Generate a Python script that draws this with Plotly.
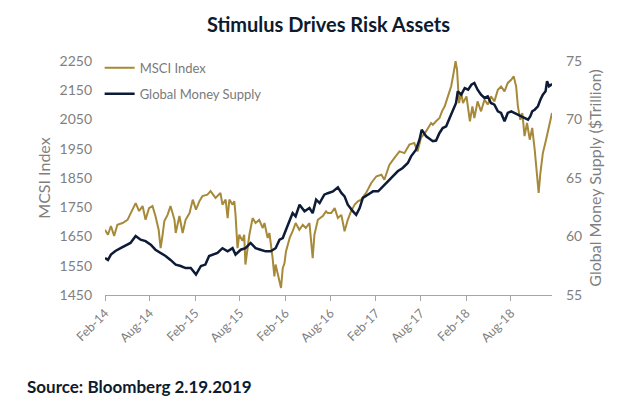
import plotly.graph_objects as go

# MSCI index (gold)
msci_dates = [
    "2014-02-01", "2014-02-13", "2014-02-25", "2014-03-10", "2014-03-23", "2014-04-13",
    "2014-05-03", "2014-05-23", "2014-06-05", "2014-06-19", "2014-07-03", "2014-07-15",
    "2014-07-29", "2014-08-12", "2014-08-24", "2014-09-06", "2014-09-14", "2014-09-22",
    "2014-09-29", "2014-10-12", "2014-10-24", "2014-11-09", "2014-11-14", "2014-11-29",
    "2014-12-12", "2014-12-24", "2015-01-09", "2015-01-22", "2015-02-04", "2015-02-18",
    "2015-03-02", "2015-03-22", "2015-04-04", "2015-04-24", "2015-05-14", "2015-05-22",
    "2015-06-04", "2015-06-12", "2015-06-19", "2015-07-02", "2015-07-09", "2015-07-14",
    "2015-07-22", "2015-07-29", "2015-08-11", "2015-08-18", "2015-08-23", "2015-09-08",
    "2015-09-21", "2015-10-03", "2015-10-18", "2015-11-01", "2015-11-08", "2015-11-21",
    "2015-11-28", "2015-12-11", "2015-12-18", "2015-12-23", "2016-01-04", "2016-01-14",
    "2016-01-21", "2016-01-28", "2016-02-03", "2016-02-18", "2016-03-01", "2016-03-13",
    "2016-03-28", "2016-04-11", "2016-04-23", "2016-05-08", "2016-05-21", "2016-05-28",
    "2016-06-11", "2016-07-01", "2016-07-14", "2016-07-21", "2016-08-04", "2016-08-18",
    "2016-08-31", "2016-09-14", "2016-09-27", "2016-10-10", "2016-10-23", "2016-11-07",
    "2016-11-20", "2016-12-03", "2016-12-23", "2017-01-13", "2017-02-03", "2017-02-23",
    "2017-03-07", "2017-03-27", "2017-04-16", "2017-05-07", "2017-05-27", "2017-06-16",
    "2017-07-06", "2017-07-19", "2017-08-02", "2017-08-23", "2017-09-12", "2017-09-19",
    "2017-10-02", "2017-10-16", "2017-10-26", "2017-11-06", "2017-11-19", "2017-12-02",
    "2017-12-12", "2017-12-20", "2017-12-26", "2018-01-03", "2018-01-12", "2018-01-19",
    "2018-02-02", "2018-02-16", "2018-02-26", "2018-03-06", "2018-03-19", "2018-04-02",
    "2018-04-16", "2018-04-29", "2018-05-12", "2018-05-26", "2018-06-09", "2018-06-22",
    "2018-07-06", "2018-07-19", "2018-08-02", "2018-08-12", "2018-08-22", "2018-08-29",
    "2018-09-08", "2018-09-16", "2018-09-25", "2018-10-05", "2018-10-16", "2018-10-26",
    "2018-11-05", "2018-11-14", "2018-11-21", "2018-11-28", "2018-12-08", "2018-12-21",
    "2019-01-05", "2019-01-14",
]
msci_values = [
    1673, 1656, 1686, 1652, 1690, 1696,
    1707, 1742, 1764, 1737, 1754, 1707,
    1747, 1754, 1720, 1673, 1610, 1656,
    1703, 1724, 1754, 1707, 1662, 1720,
    1662, 1707, 1730, 1776, 1742, 1771,
    1788, 1793, 1805, 1782, 1799, 1759,
    1776, 1713, 1776, 1759, 1771, 1724,
    1610, 1656, 1635, 1656, 1554, 1656,
    1713, 1696, 1707, 1679, 1696, 1645,
    1662, 1576, 1514, 1554, 1508, 1474,
    1542, 1559, 1599, 1645, 1668, 1696,
    1673, 1690, 1679, 1696, 1576, 1656,
    1707, 1720, 1736, 1730, 1730, 1747,
    1713, 1724, 1668, 1707, 1736, 1759,
    1770, 1776, 1799, 1833, 1856, 1861,
    1844, 1895, 1918, 1941, 1935, 1964,
    1970, 1941, 1987, 2010, 2038, 2032,
    2044, 2055, 2078, 2095, 2129, 2163,
    2209, 2249, 2220, 2106, 2141, 2106,
    2129, 2044, 2095, 2055, 2112, 2078,
    2118, 2101, 2129, 2112, 2152, 2163,
    2146, 2175, 2186, 2198, 2163, 2095,
    2049, 2072, 1993, 2038, 1981, 2021,
    1947, 1867, 1799, 1867, 1935, 1981,
    2038, 2072,
]

# Global money supply, $ trillion (navy)
money_dates = [
    "2014-02-01", "2014-02-13", "2014-02-25", "2014-03-15", "2014-04-05", "2014-04-25",
    "2014-05-15", "2014-06-05", "2014-06-25", "2014-07-15", "2014-08-05", "2014-08-24",
    "2014-09-14", "2014-10-04", "2014-10-24", "2014-11-14", "2014-12-04", "2014-12-24",
    "2015-01-14", "2015-02-04", "2015-02-24", "2015-03-14", "2015-03-29", "2015-04-18",
    "2015-05-02", "2015-05-22", "2015-06-12", "2015-07-02", "2015-07-14", "2015-08-04",
    "2015-08-23", "2015-09-13", "2015-10-03", "2015-10-23", "2015-11-13", "2015-12-03",
    "2015-12-23", "2016-01-08", "2016-01-21", "2016-02-03", "2016-02-18", "2016-03-01",
    "2016-03-13", "2016-03-29", "2016-04-18", "2016-05-08", "2016-05-21", "2016-06-04",
    "2016-06-18", "2016-07-07", "2016-07-21", "2016-08-11", "2016-08-31", "2016-09-14",
    "2016-09-27", "2016-10-10", "2016-10-31", "2016-11-13", "2016-11-27", "2016-12-10",
    "2016-12-30", "2017-01-20", "2017-02-10", "2017-03-01", "2017-03-20", "2017-04-10",
    "2017-04-30", "2017-05-20", "2017-06-10", "2017-06-23", "2017-07-13", "2017-07-27",
    "2017-08-05", "2017-08-23", "2017-09-12", "2017-09-19", "2017-10-02", "2017-10-16",
    "2017-10-29", "2017-11-12", "2017-11-26", "2017-12-09", "2017-12-22", "2017-12-29",
    "2018-01-12", "2018-01-26", "2018-02-09", "2018-02-22", "2018-03-06", "2018-03-19",
    "2018-04-02", "2018-04-16", "2018-04-29", "2018-05-12", "2018-05-26", "2018-06-09",
    "2018-06-22", "2018-07-06", "2018-07-19", "2018-08-02", "2018-08-16", "2018-08-29",
    "2018-09-12", "2018-09-25", "2018-10-09", "2018-10-18", "2018-10-26", "2018-11-05",
    "2018-11-18", "2018-11-28", "2018-12-08", "2018-12-19", "2018-12-25", "2019-01-02",
    "2019-01-11", "2019-01-14",
]
money_values = [
    58.16, 58.0, 58.45, 58.76, 59.0, 59.2,
    59.45, 60.04, 59.73, 59.6, 59.3, 58.87,
    58.6, 58.33, 58.0, 57.6, 57.48, 57.3,
    57.3, 56.74, 57.48, 57.6, 58.33, 58.45,
    58.6, 59.0, 58.73, 59.0, 58.45, 58.87,
    59.0, 59.45, 59.0, 58.87, 58.73, 58.73,
    59.0, 59.73, 59.87, 60.58, 61.3, 62.0,
    61.73, 62.72, 62.15, 62.43, 62.0, 63.15,
    62.86, 63.57, 63.7, 63.85, 64.2, 63.72,
    63.43, 62.72, 62.15, 61.86, 62.43, 63.3,
    63.57, 63.86, 63.86, 64.29, 64.72, 65.15,
    65.57, 65.86, 66.28, 66.85, 67.42, 68.27,
    69.13, 68.56, 68.27, 68.14, 68.2, 68.85,
    69.27, 69.42, 70.13, 70.7, 71.41, 72.41,
    72.12, 72.69, 72.55, 72.97, 73.12, 72.55,
    72.12, 71.84, 71.98, 71.41, 71.27, 70.7,
    70.56, 69.85, 70.56, 70.7, 70.56, 70.41,
    70.27, 70.13, 69.98, 70.27, 70.7, 70.84,
    71.13, 71.69, 72.12, 72.41, 73.27, 72.84,
    72.97, 72.9,
]

tick_dates = ["2014-02-01", "2014-08-01", "2015-02-01", "2015-08-01", "2016-02-01",
              "2016-08-01", "2017-02-01", "2017-08-01", "2018-02-01", "2018-08-01"]
tick_labels = ["Feb-14", "Aug-14", "Feb-15", "Aug-15", "Feb-16",
               "Aug-16", "Feb-17", "Aug-17", "Feb-18", "Aug-18"]

gold = "#A68A3A"
navy = "#0D1B36"
grey = "#7F7F7F"
font = "Lato"

fig = go.Figure()
fig.add_trace(go.Scatter(x=msci_dates, y=msci_values, name="MSCI Index", mode="lines",
                         line=dict(color=gold, width=2), legendgroup="a"))
fig.add_trace(go.Scatter(x=money_dates, y=money_values, name="Global Money Supply", mode="lines",
                         line=dict(color=navy, width=2.5), yaxis="y2", legendgroup="b"))

fig.update_layout(
    width=624, height=415,
    margin=dict(l=97, r=80, t=53, b=128),
    paper_bgcolor="white", plot_bgcolor="white",
    font=dict(family=font, color=grey, size=13),
    title=dict(text="<b>Stimulus Drives Risk Assets</b>", x=0.5, xref="paper", y=0.975,
               yanchor="top", font=dict(family=font, size=20, color="#0D1B2E")),
    showlegend=True,
    legend=dict(x=-0.012, y=1.035, xanchor="left", yanchor="top", bgcolor="rgba(0,0,0,0)",
                font=dict(size=13, color="#7A7A7A"), tracegroupgap=6),
    xaxis=dict(type="date", range=["2014-02-01", "2019-01-14"], tickvals=tick_dates,
               ticktext=tick_labels, tickangle=-45, showgrid=False, showline=True,
               linecolor="#A6A6A6", linewidth=1, ticks="outside", tickcolor="#A6A6A6",
               ticklen=5, tickfont=dict(size=12.5, color=grey)),
    yaxis=dict(range=[1450, 2250], tick0=1450, dtick=100, showgrid=False, zeroline=False,
               showline=False, ticklabelstandoff=12, title=dict(text="MCSI Index", standoff=4),
               tickfont=dict(size=14, color=grey)),
    yaxis2=dict(range=[55, 75], tick0=55, dtick=5, overlaying="y", side="right",
                showgrid=False, zeroline=False, showline=False, ticklabelstandoff=13,
                title=dict(text="Global Money Supply ($Trillion)", standoff=8),
                tickfont=dict(size=14, color=grey)),
)

fig.add_annotation(text="<b>Source: Bloomberg 2.19.2019</b>", xref="paper", yref="paper",
                   x=-0.18, y=-0.39, xanchor="left", yanchor="middle", showarrow=False,
                   font=dict(family=font, size=17, color="#0D1B2E"))

fig.write_html("out.html")
